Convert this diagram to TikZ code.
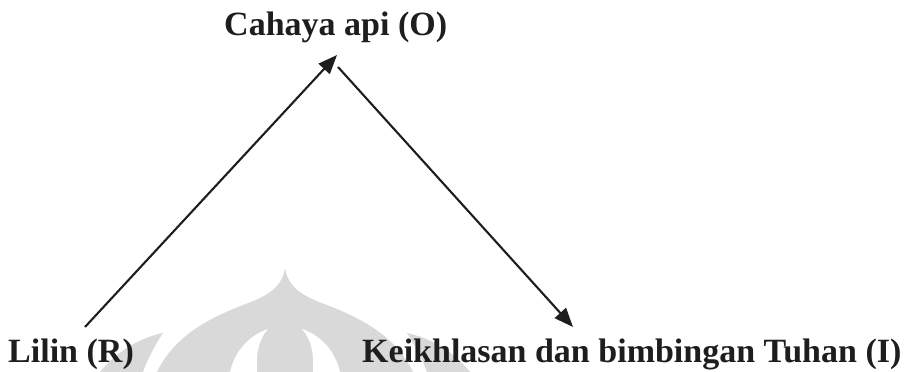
\documentclass[tikz,border=0pt]{standalone}
\usepackage{fontspec}
\setmainfont{Liberation Serif}
\usetikzlibrary{arrows.meta}

\definecolor{ink}{HTML}{1E1E1E}
\definecolor{mark}{HTML}{D9D9D9}

\tikzset{
  term/.style={font=\fontsize{34}{40}\selectfont\bfseries, text=ink, inner sep=0pt},
  link/.style={draw=ink, line width=2.1pt, -{Triangle[length=19pt,width=15pt]}},
  seal/.style={fill=mark, draw=none},
  gap/.style={fill=white, draw=none}
}

\begin{document}
\begin{tikzpicture}[x=1pt, y=-1pt]
\useasboundingbox[fill=white] (0,0) rectangle (913,372);

% faint emblem in the background
\path[seal] (285,268) .. controls (282,290) and (262,298) .. (243,305)
  .. controls (210,318) and (175,335) .. (157,372) -- (413,372)
  .. controls (395,335) and (360,318) .. (327,305)
  .. controls (308,298) and (288,290) .. (285,268) -- cycle;
\path[gap] (230,372) .. controls (235,350) and (250,335) .. (268,329)
  .. controls (258,340) and (256,355) .. (257,372) -- cycle;
\path[gap] (340,372) .. controls (335,350) and (320,335) .. (302,329)
  .. controls (312,340) and (314,355) .. (313,372) -- cycle;
\path[seal] (163,333) .. controls (140,338) and (118,350) .. (100,372) -- (143,372)
  .. controls (148,358) and (155,345) .. (163,333) -- cycle;
\path[seal] (407,333) .. controls (430,338) and (452,350) .. (470,372) -- (427,372)
  .. controls (422,358) and (415,345) .. (407,333) -- cycle;

% terms
\node[term, anchor=base west] (out) at (224,35) {Cahaya api (O)};
\node[term, anchor=base west] (rep) at (8,362) {Lilin (R)};
\node[term, anchor=base west] (int) at (362,362) {Keikhlasan dan bimbingan Tuhan (I)};

% connector ends
\coordinate (repTop) at (85,327);
\coordinate (outIn) at (337,55);
\coordinate (outOut) at (338,67);
\coordinate (intIn) at (573,327);

\draw[link] (repTop) -- (outIn);
\draw[link] (outOut) -- (intIn);
\end{tikzpicture}
\end{document}
